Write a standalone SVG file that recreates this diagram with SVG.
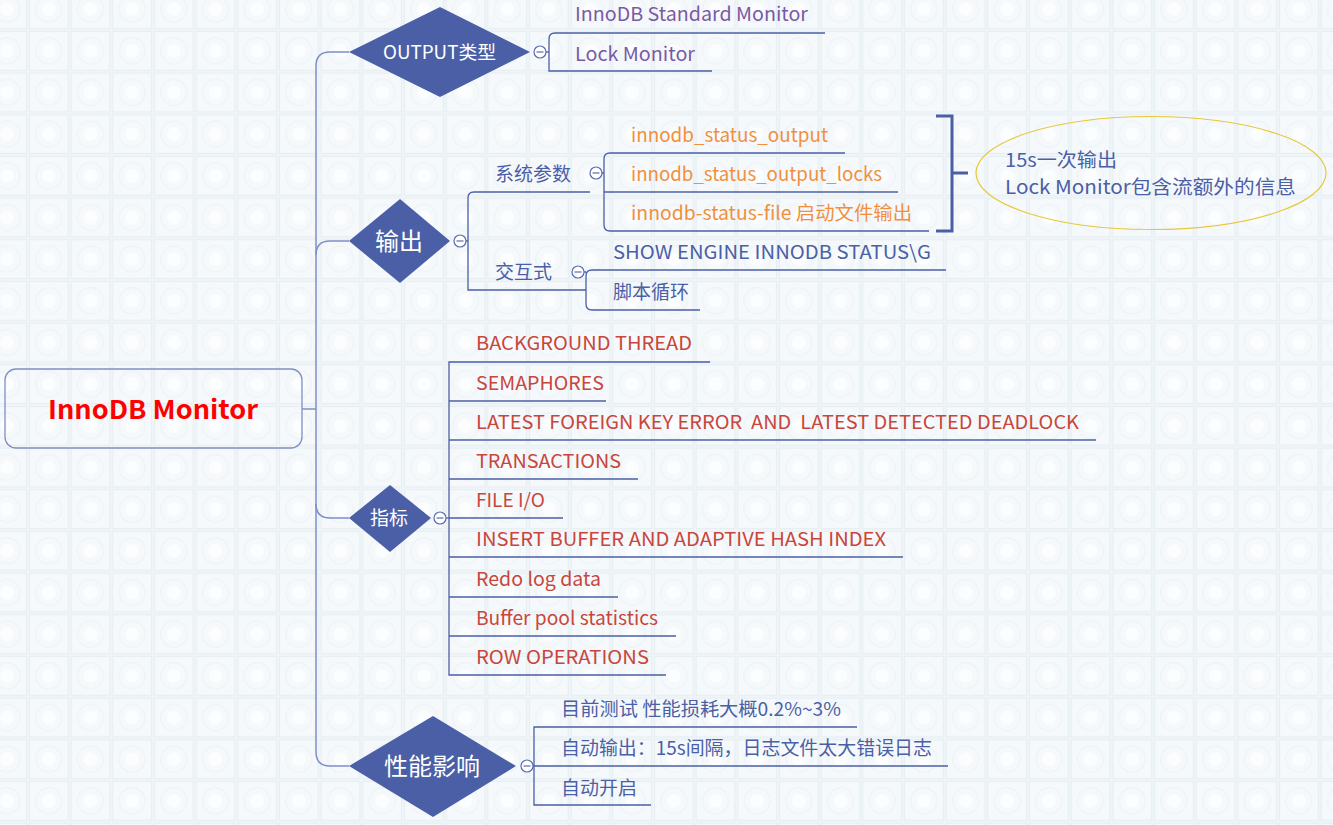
<svg xmlns="http://www.w3.org/2000/svg" width="1333" height="825" viewBox="0 0 1333 825">
<defs>
<pattern id="tile" x="28" y="30" width="41.67" height="41.67" patternUnits="userSpaceOnUse">
<rect width="41.67" height="41.67" fill="#eef4f7"/>
<rect x="1.5" y="1.5" width="38.6" height="38.6" fill="#f6f9fb" stroke="#e7eff3" stroke-width="1"/>
<circle cx="20.8" cy="20.8" r="13" fill="none" stroke="#eef4f7" stroke-width="1.5"/>
<circle cx="20.8" cy="20.8" r="7" fill="#fbfdfe"/>
</pattern>
<style>
.t{font-family:"Noto Sans CJK SC","Noto Sans",sans-serif;font-size:19px}
.dia{fill:#4b5fa6}
.dt{fill:#ffffff;text-anchor:middle;font-family:"Noto Sans CJK SC","Noto Sans",sans-serif}
.ln{fill:none;stroke:#4b5fa6;stroke-width:1.3}
.tr{fill:none;stroke:#7f8fc8;stroke-width:1.5}
.col{fill:#ffffff;stroke:#5a6cb0;stroke-width:1.2}
.mn{stroke:#5a6cb0;stroke-width:1.2}
.pu{fill:#7a5aa6}
.or{fill:#f0903c}
.bl{fill:#4b5fa6}
.rd{fill:#c8463c}
</style>
</defs>
<rect width="1333" height="825" fill="url(#tile)"/>

<g id="connectors">
<path class="tr" d="M302 409 H316"/>
<path class="tr" d="M349 52 H330 Q316 52 316 66 V752 Q316 766 330 766 H349"/>
<path class="tr" d="M316 255 Q316 241 330 241 H349"/>
<path class="tr" d="M316 504 Q316 518 330 518 H349"/>
<path class="ln" d="M546 52 H549"/>
<path class="ln" d="M825 33 H555 Q549 33 549 39 V71 H712"/>
<path class="ln" d="M466 241 H468"/>
<path class="ln" d="M590 192 H474 Q468 192 468 198 V290 H586"/>
<path class="ln" d="M602 173 H604"/>
<path class="ln" d="M845 153 H610 Q604 153 604 159 V225 Q604 231 610 231 H929"/>
<path class="ln" d="M604 192 H898"/>
<path class="ln" d="M584 272 H586"/>
<path class="ln" d="M946 270 H592 Q586 270 586 276 V304 Q586 310 592 310 H700"/>
<path class="ln" d="M446 518 H449"/>
<path class="ln" d="M710 362 H449 V675 H666"/>
<path class="ln" d="M449 401 H606"/>
<path class="ln" d="M449 440 H1096"/>
<path class="ln" d="M449 479 H638"/>
<path class="ln" d="M449 518 H563"/>
<path class="ln" d="M449 557 H903"/>
<path class="ln" d="M449 597 H618"/>
<path class="ln" d="M449 636 H676"/>
<path class="ln" d="M533 766 H534"/>
<path class="ln" d="M857 727 H534 V805 H651"/>
<path class="ln" d="M534 766 H948"/>
<path d="M936 116 H952 V231 H936 M952 173 H968" fill="none" stroke="#4b5fa6" stroke-width="3"/>
</g>

<g id="root">
<rect x="5" y="369" width="297" height="79" rx="11" fill="none" stroke="#7f8fc8" stroke-width="1.3"/>
<text x="48" y="419" textLength="210" lengthAdjust="spacingAndGlyphs" font-family="'Noto Sans CJK SC','Noto Sans',sans-serif" font-size="26" font-weight="bold" fill="#ff0000">InnoDB Monitor</text>
</g>

<g id="n-output">
<polygon class="dia" points="349,52 440,7 530,52 440,97"/>
<text class="dt" x="439.5" y="59" font-size="18" textLength="113" lengthAdjust="spacingAndGlyphs">OUTPUT类型</text>
<circle class="col" cx="540" cy="52" r="6"/><path class="mn" d="M536.5 52 H543.5"/>
</g>
<g id="n-standard"><text class="t pu" x="575" y="21" textLength="233" lengthAdjust="spacingAndGlyphs">InnoDB Standard Monitor</text></g>
<g id="n-lock"><text class="t pu" x="575" y="61" textLength="120" lengthAdjust="spacingAndGlyphs">Lock Monitor</text></g>

<g id="n-shuchu">
<polygon class="dia" points="349,241 400,199 450,241 400,283"/>
<text class="dt" x="399" y="250" font-size="24">输出</text>
<circle class="col" cx="460" cy="241" r="6"/><path class="mn" d="M456.5 241 H463.5"/>
</g>
<g id="n-sys">
<text class="t bl" x="495" y="181">系统参数</text>
<circle class="col" cx="596" cy="173" r="6"/><path class="mn" d="M592.5 173 H599.5"/>
</g>
<g id="n-o1"><text class="t or" x="631" y="142" textLength="197" lengthAdjust="spacingAndGlyphs">innodb_status_output</text></g>
<g id="n-o2"><text class="t or" x="631" y="181" textLength="251" lengthAdjust="spacingAndGlyphs">innodb_status_output_locks</text></g>
<g id="n-o3"><text class="t or" x="631" y="220" textLength="281" lengthAdjust="spacingAndGlyphs">innodb-status-file 启动文件输出</text></g>
<g id="n-inter">
<text class="t bl" x="495" y="279">交互式</text>
<circle class="col" cx="578" cy="272" r="6"/><path class="mn" d="M574.5 272 H581.5"/>
</g>
<g id="n-show"><text class="t bl" x="613" y="259" textLength="318" lengthAdjust="spacingAndGlyphs">SHOW ENGINE INNODB STATUS\G</text></g>
<g id="n-script"><text class="t bl" x="613" y="299">脚本循环</text></g>

<g id="n-note">
<ellipse cx="1151" cy="173" rx="175" ry="56.5" fill="none" stroke="#e6c93a" stroke-width="1.2"/>
<text class="t bl" x="1005" y="167" textLength="112" lengthAdjust="spacingAndGlyphs">15s一次输出</text>
<text class="t bl" x="1005" y="194" textLength="291" lengthAdjust="spacingAndGlyphs">Lock Monitor包含流额外的信息</text>
</g>

<g id="n-zhibiao">
<polygon class="dia" points="349,518 390,485 431,518 390,552"/>
<text class="dt" x="389" y="525" font-size="19">指标</text>
<circle class="col" cx="440" cy="518" r="6"/><path class="mn" d="M436.5 518 H443.5"/>
</g>
<g id="n-i1"><text class="t rd" x="476" y="350" textLength="216" lengthAdjust="spacingAndGlyphs">BACKGROUND THREAD</text></g>
<g id="n-i2"><text class="t rd" x="476" y="390" textLength="128" lengthAdjust="spacingAndGlyphs">SEMAPHORES</text></g>
<g id="n-i3"><text class="t rd" x="476" y="429" textLength="603" lengthAdjust="spacingAndGlyphs" xml:space="preserve">LATEST FOREIGN KEY ERROR  AND  LATEST DETECTED DEADLOCK</text></g>
<g id="n-i4"><text class="t rd" x="476" y="468" textLength="145" lengthAdjust="spacingAndGlyphs">TRANSACTIONS</text></g>
<g id="n-i5"><text class="t rd" x="476" y="507" textLength="69" lengthAdjust="spacingAndGlyphs">FILE I/O</text></g>
<g id="n-i6"><text class="t rd" x="476" y="546" textLength="410" lengthAdjust="spacingAndGlyphs">INSERT BUFFER AND ADAPTIVE HASH INDEX</text></g>
<g id="n-i7"><text class="t rd" x="476" y="586" textLength="125" lengthAdjust="spacingAndGlyphs">Redo log data</text></g>
<g id="n-i8"><text class="t rd" x="476" y="625" textLength="182" lengthAdjust="spacingAndGlyphs">Buffer pool statistics</text></g>
<g id="n-i9"><text class="t rd" x="476" y="664" textLength="173" lengthAdjust="spacingAndGlyphs">ROW OPERATIONS</text></g>

<g id="n-perf">
<polygon class="dia" points="349,766 433,716 516,766 433,817"/>
<text class="dt" x="432" y="775" font-size="24">性能影响</text>
<circle class="col" cx="527" cy="766" r="6"/><path class="mn" d="M523.5 766 H530.5"/>
</g>
<g id="n-p1"><text class="t bl" x="561" y="716" textLength="280" lengthAdjust="spacingAndGlyphs">目前测试 性能损耗大概0.2%~3%</text></g>
<g id="n-p2"><text class="t bl" x="561" y="755" textLength="371" lengthAdjust="spacingAndGlyphs">自动输出：15s间隔，日志文件太大错误日志</text></g>
<g id="n-p3"><text class="t bl" x="561" y="795">自动开启</text></g>
</svg>
